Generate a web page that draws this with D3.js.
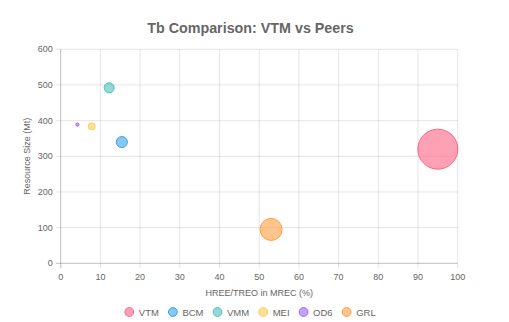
<!DOCTYPE html>
<html>
<head>
  <script src="https://d3js.org/d3.v7.min.js"></script>
  <style>
    body { margin: 0; background: #fff; }
    svg text { font-family: "Liberation Sans", Arial, Helvetica, sans-serif; fill: #666; }
  </style>
</head>
<body>
  <svg id="chart" width="509" height="322"></svg>
  <script>
    // bubble data
    const names = ['VTM', 'BCM', 'VMM', 'MEI', 'OD6', 'GRL'];
    const hreeShare = [95, 15.4, 12.2, 7.8, 4.2, 53];     // x, %
    const resourceMt = [320, 340, 492, 384, 389, 95];      // y, Mt
    const bubbleR = [20, 5.5, 5, 3.5, 1.6, 11];            // radius, px
    const colors = ['255,99,132', '54,162,235', '75,192,192', '255,205,86', '153,102,255', '255,159,64'];

    const xTicks = d3.range(0, 101, 10);
    const yTicks = d3.range(0, 601, 100);

    const svg = d3.select('#chart');
    const plotL = 60.7, plotR = 457.7, plotT = 49.3, plotB = 263.3;

    const x = d3.scaleLinear().domain([0, 100]).range([plotL, plotR]);
    const y = d3.scaleLinear().domain([0, 600]).range([plotB, plotT]);

    // grid
    const grid = svg.append('g');
    grid.selectAll('.vg').data(xTicks).enter().append('line')
      .attr('x1', d => x(d)).attr('x2', d => x(d))
      .attr('y1', plotT).attr('y2', plotB + 5)
      .attr('stroke', d => d === 0 ? 'rgba(0,0,0,0.25)' : 'rgba(0,0,0,0.1)');
    grid.selectAll('.hg').data(yTicks).enter().append('line')
      .attr('y1', d => y(d)).attr('y2', d => y(d))
      .attr('x1', plotL - 5).attr('x2', plotR)
      .attr('stroke', d => d === 0 ? 'rgba(0,0,0,0.25)' : 'rgba(0,0,0,0.1)');

    // tick labels
    svg.append('g').selectAll('text').data(xTicks).enter().append('text')
      .attr('x', d => x(d)).attr('y', 280)
      .attr('text-anchor', 'middle').style('font-size', '9px')
      .text(d => d);
    svg.append('g').selectAll('text').data(yTicks).enter().append('text')
      .attr('x', plotL - 8).attr('y', d => y(d) + 3)
      .attr('text-anchor', 'end').style('font-size', '9px')
      .text(d => d);

    // axis titles
    svg.append('text')
      .attr('x', (plotL + plotR) / 2).attr('y', 296)
      .attr('text-anchor', 'middle').style('font-size', '9px')
      .text('HREE/TREO in MREC (%)');
    svg.append('text')
      .attr('transform', `translate(30, ${(plotT + plotB) / 2}) rotate(-90)`)
      .attr('text-anchor', 'middle').style('font-size', '9px')
      .text('Resource Size (Mt)');

    // title
    svg.append('text')
      .attr('x', 250.5).attr('y', 32.5)
      .attr('text-anchor', 'middle')
      .style('font-size', '14.3px').style('font-weight', 'bold')
      .text('Tb Comparison: VTM vs Peers');

    // bubbles
    svg.append('g').selectAll('circle').data(names).enter().append('circle')
      .attr('cx', (d, i) => x(hreeShare[i]))
      .attr('cy', (d, i) => y(resourceMt[i]))
      .attr('r', (d, i) => bubbleR[i])
      .attr('fill', (d, i) => `rgba(${colors[i]},0.6)`)
      .attr('stroke', (d, i) => `rgb(${colors[i]})`)
      .attr('stroke-width', 1);

    // legend
    const legend = svg.append('g');
    const items = legend.selectAll('g').data(names).enter().append('g');
    items.append('circle')
      .attr('r', 4.4)
      .attr('fill', (d, i) => `rgba(${colors[i]},0.6)`)
      .attr('stroke', (d, i) => `rgb(${colors[i]})`);
    items.append('text')
      .attr('x', 9.5).attr('y', 3.5)
      .style('font-size', '9.5px')
      .text(d => d);
    let widths = [];
    items.each(function () { widths.push(9.5 + d3.select(this).select('text').node().getComputedTextLength()); });
    const gap = 14;
    const total = d3.sum(widths) + gap * (widths.length - 1);
    let cx = 248 - total / 2 + 4.5;
    items.attr('transform', (d, i) => {
      const t = `translate(${cx}, 312)`;
      cx += widths[i] + gap;
      return t;
    });
  </script>
</body>
</html>
